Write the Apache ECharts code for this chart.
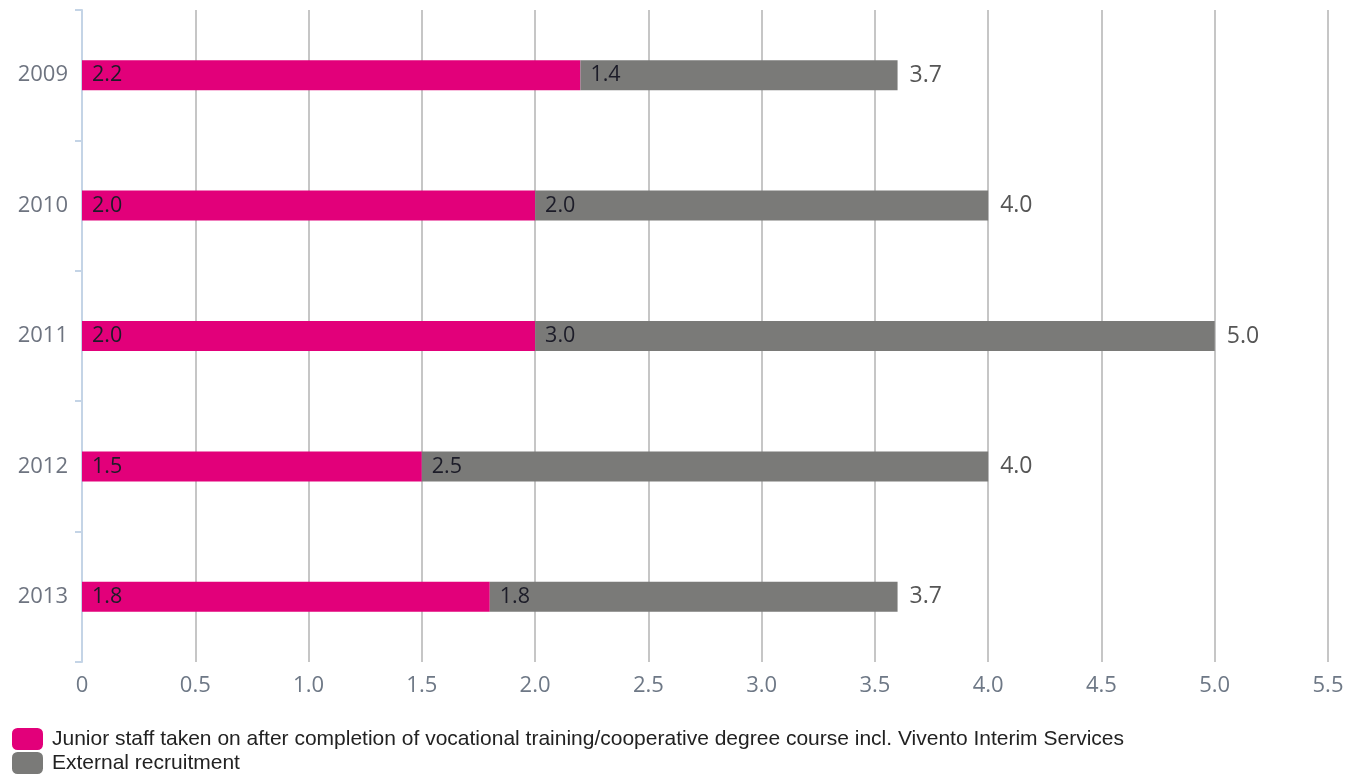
<!DOCTYPE html>
<html><head><meta charset="utf-8">
<script src="https://cdn.jsdelivr.net/npm/echarts@6/dist/echarts.min.js"></script>
<style>html,body{margin:0;padding:0;background:#fff}#c{width:1361px;height:776px}</style>
</head><body><div id="c"></div>
<script>
const years = ['2009','2010','2011','2012','2013'];
const junior = [2.2, 2.0, 2.0, 1.5, 1.8];
const external = [1.4, 2.0, 3.0, 2.5, 1.8];
const totals = [3.7, 4.0, 5.0, 4.0, 3.7];
const seriesNames = ['Junior staff taken on after completion of vocational training/cooperative degree course incl. Vivento Interim Services', 'External recruitment'];

const chart = echarts.init(document.getElementById('c'), null, {renderer:'canvas'});
const FONT = '"Open Sans", Lato, sans-serif';
const labelFont = {fontFamily:FONT, fontSize:21.5, color:'#1c1c28'};
const legendText = {fontFamily:'"Liberation Sans", Arial, sans-serif', fontSize:21, color:'#222', padding:[0,0,0,4]};
chart.setOption({
  animation:false,
  grid:{left:82, right:33, top:10, bottom:114, containLabel:false},
  legend:[
    {left:12, top:728, padding:0, itemWidth:31, itemHeight:22, itemGap:8, icon:'roundRect',
     data:[seriesNames[0]], textStyle:legendText},
    {left:12, top:752, padding:0, itemWidth:31, itemHeight:22, itemGap:8, icon:'roundRect',
     data:[seriesNames[1]], textStyle:legendText}
  ],
  xAxis:{
    type:'value', min:0, max:5.5, interval:0.5,
    axisLine:{show:false}, axisTick:{show:false},
    splitLine:{show:true, lineStyle:{color:'#c6c6c6', width:2}},
    axisLabel:{margin:13, fontFamily:FONT, fontSize:22, color:'#6e7886',
      formatter:v=> v===0 ? '0' : v.toFixed(1)}
  },
  yAxis:{
    type:'category', data:years, inverse:true,
    axisLine:{show:true, lineStyle:{color:'#c4d4e6', width:2}},
    axisTick:{show:true, length:7, inside:false, lineStyle:{color:'#c4d4e6', width:2}},
    axisLabel:{margin:14, fontFamily:FONT, fontSize:22, color:'#6e7480'}
  },
  series:[
    {name:seriesNames[0], type:'bar', stack:'a', data:junior, barWidth:30,
     itemStyle:{color:'#e2007a'},
     label:{show:true, position:'insideLeft', distance:10, formatter:p=>p.value.toFixed(1), ...labelFont}},
    {name:seriesNames[1], type:'bar', stack:'a', data:external, barWidth:30,
     itemStyle:{color:'#7a7a78'},
     label:{show:true, position:'insideLeft', distance:10, formatter:p=>p.value.toFixed(1), ...labelFont}},
    {name:'Total', type:'bar', stack:'a', data:totals.map(()=>0), barWidth:30,
     itemStyle:{color:'transparent'}, silent:true,
     label:{show:true, position:'right', distance:12, formatter:p=>totals[p.dataIndex].toFixed(1),
       fontFamily:FONT, fontSize:23, color:'#555'}}
  ]
});
</script></body></html>
